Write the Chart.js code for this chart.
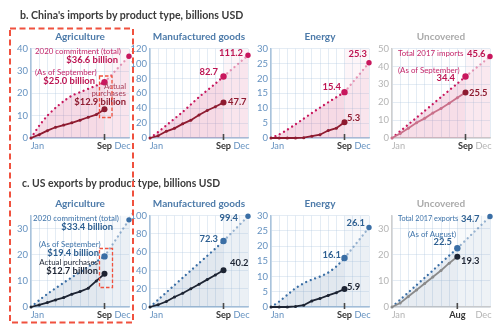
<!DOCTYPE html>
<html><head><meta charset="utf-8">
<script src="https://cdn.jsdelivr.net/npm/chart.js@4/dist/chart.umd.min.js"></script>
<style>
body{margin:0;width:500px;height:329px;position:relative;background:#fff;font-family:Lato,"Open Sans",sans-serif;overflow:hidden}
canvas.c{position:absolute}
.t{position:absolute;white-space:nowrap;line-height:1}
svg{position:absolute;left:0;top:0;pointer-events:none}
</style></head><body>
<script>
// ---------- DATA (billions USD; index = month-end, 0 = start of January) ----------
const monthGrid = [0,1,2,3,4,5,6,7,8,9,10,11,12];
const xTickLabels = [{at:0.78, text:'Jan'}, {at:9, text:'Sep'}, {at:11.2, text:'Dec'}];
const xTickLabelsAug = [{at:0.78, text:'Jan'}, {at:8, text:'Aug'}, {at:11.2, text:'Dec'}];
const panelTitles = ['Agriculture','Manufactured goods','Energy','Uncovered'];

// b. China's imports
const cnAgTarget = [0, 5.5, 10, 13.5, 16.5, 19, 20.5, 22, 23.5, 25.0];
const cnAgActual = [0, 1.5, 3.3, 4.8, 5.8, 6.8, 8.0, 9.3, 10.5, 12.9];
const cnAgTotal = 36.6;
const cnMfTarget = [0, 8, 17, 26, 35, 45, 55, 64, 73, 82.7];
const cnMfActual = [0, 3, 9, 13, 19, 24, 31, 37, 42, 47.7];
const cnMfTotal = 111.2;
const cnEnTarget = [0, 1.2, 2.8, 4.6, 6.5, 8.4, 10.2, 12, 13.7, 15.4];
const cnEnActual = [0, 0, 0, 0, 0.1, 0.6, 1.1, 2.5, 3.3, 5.3];
const cnEnTotal = 25.3;
const cnUnTarget = [0, 3.8, 7.6, 11.4, 15.2, 19, 22.9, 26.7, 30.5, 34.4];
const cnUnActual = [0, 2.5, 5.5, 8.5, 11, 14, 16.5, 19.5, 22.5, 25.5];
const cnUnTotal = 45.6;

// c. US exports
const usAgTarget = [0, 2.6, 5, 7.2, 9.3, 11.4, 13.4, 15.4, 17.4, 19.4];
const usAgActual = [0, 0.8, 1.7, 2.7, 3.6, 4.9, 5.9, 7.2, 10, 12.7];
const usAgTotal = 33.4;
const usMfTarget = [0, 8, 16, 24, 32, 40, 48, 56, 64, 72.3];
const usMfActual = [0, 2.5, 6, 11, 15, 20, 25, 30, 35, 40.2];
const usMfTotal = 99.4;
const usEnTarget = [0, 1.8, 4, 6.2, 7.8, 9, 10, 11.3, 13.3, 16.1];
const usEnActual = [0, 0, 0, 0.2, 0.6, 2, 2.8, 3.8, 4.7, 5.9];
const usEnTotal = 26.1;
const usUnTarget = [0, 2.8, 5.6, 8.4, 11.2, 14, 16.9, 19.7, 22.5];
const usUnActual = [0, 1.5, 4, 6.5, 9, 11.5, 14, 16.8, 19.3];
const usUnTotal = 34.7;
const monthsInYear = 12;

// ---------- THEMES ----------
const themes = {
  cn: {target:'#c8175d', fill:'rgba(200,23,93,0.16)', proj:'rgba(200,23,93,0.42)', projFill:'rgba(200,23,93,0.07)', band:'rgba(200,23,93,0.045)', actual:'#8e1b30', actualMark:'#8e1b30', end:'#8e1b30'},
  cnU: {target:'#c8175d', fill:'rgba(200,23,93,0.14)', proj:'rgba(200,23,93,0.42)', projFill:'rgba(200,23,93,0.06)', band:'rgba(200,23,93,0.04)', actual:'#c9708a', actualMark:'#c9708a', end:'#8e1b30'},
  us: {target:'#3a6ea5', fill:'rgba(58,100,150,0.15)', proj:'rgba(58,110,165,0.5)', projFill:'rgba(58,100,150,0.06)', band:'rgba(58,100,150,0.04)', actual:'#1d2433', actualMark:'#1d2433', end:'#1d2433'},
  usU: {target:'#3a6ea5', fill:'rgba(58,100,150,0.12)', proj:'rgba(58,110,165,0.5)', projFill:'rgba(58,100,150,0.05)', band:'rgba(58,100,150,0.035)', actual:'#8a8a8a', actualMark:'#8a8a8a', end:'#1d2433'}
};

const PW = 98, YW = 26, PADT = 8, PADR = 6, XH = 16;
const cols = [31, 150, 271, 392];
const rows = [{top:48, h:90}, {top:215, h:92}];

const panels = [
  {c:0,r:0,yMax:40, step:10, tg:cnAgTarget, ac:cnAgActual, tot:cnAgTotal, th:'cn', unc:false, lab:xTickLabels},
  {c:1,r:0,yMax:120,step:20, tg:cnMfTarget, ac:cnMfActual, tot:cnMfTotal, th:'cn', unc:false, lab:xTickLabels},
  {c:2,r:0,yMax:30, step:5,  tg:cnEnTarget, ac:cnEnActual, tot:cnEnTotal, th:'cn', unc:false, lab:xTickLabels},
  {c:3,r:0,yMax:50, step:10, tg:cnUnTarget, ac:cnUnActual, tot:cnUnTotal, th:'cnU', unc:true, lab:xTickLabels},
  {c:0,r:1,yMax:35, step:5,  tg:usAgTarget, ac:usAgActual, tot:usAgTotal, th:'us', unc:false, lab:xTickLabels},
  {c:1,r:1,yMax:100,step:20, tg:usMfTarget, ac:usMfActual, tot:usMfTotal, th:'us', unc:false, lab:xTickLabels},
  {c:2,r:1,yMax:30, step:5,  tg:usEnTarget, ac:usEnActual, tot:usEnTotal, th:'us', unc:false, lab:xTickLabels},
  {c:3,r:1,yMax:35, step:5,  tg:usUnTarget, ac:usUnActual, tot:usUnTotal, th:'usU', unc:true, lab:xTickLabelsAug}
];

const blueTick = '#6592c0', greyTick = '#b4b4b4';
const gridCol = 'rgba(170,195,220,0.32)';

const bandPlugin = {
  id:'band',
  beforeDraw(chart){
    const o = chart.options.plugins.band; if(!o) return;
    const {ctx, chartArea:a, scales:{x}} = chart;
    const x0 = x.getPixelForValue(o.from);
    ctx.save(); ctx.fillStyle = o.color; ctx.fillRect(x0, a.top, a.right - x0, a.bottom - a.top); ctx.restore();
  },
  afterDatasetsDraw(chart){
    const o = chart.options.plugins.band; if(!o) return;
    const {ctx, chartArea:a, scales:{x}} = chart;
    const xp = x.getPixelForValue(o.from);
    ctx.save(); ctx.strokeStyle = '#4a4a4a'; ctx.lineWidth = 1.6;
    ctx.beginPath(); ctx.moveTo(xp, a.bottom - 4); ctx.lineTo(xp, a.bottom + 2); ctx.stroke(); ctx.restore();
  }
};

function addText(text, x, cy, align, style){
  const d = document.createElement('div');
  d.className = 't'; d.textContent = text;
  d.style.left = x + 'px'; d.style.top = cy + 'px';
  d.style.transform = align==='r' ? 'translate(-100%,-50%)' : align==='c' ? 'translate(-50%,-50%)' : 'translateY(-50%)';
  Object.assign(d.style, style);
  document.body.appendChild(d);
  return d;
}

panels.forEach(p => {
  const th = themes[p.th];
  const cut = p.tg.length - 1;
  const left = cols[p.c], row = rows[p.r];
  const cv = document.createElement('canvas');
  cv.className = 'c';
  const W = YW + PW + PADR, H = PADT + row.h + XH;
  cv.width = W; cv.height = H;
  cv.style.left = (left - YW) + 'px'; cv.style.top = (row.top - PADT) + 'px';
  cv.style.width = W + 'px'; cv.style.height = H + 'px';
  document.body.appendChild(cv);

  const tgPts = p.tg.map((v,i)=>({x:i, y:v}));
  const acPts = p.ac.map((v,i)=>({x:i, y:v}));
  const prPts = [{x:cut, y:p.tg[cut]}, {x:monthsInYear, y:p.tot}];
  const tickCol = p.unc ? greyTick : blueTick;
  const axisCol = p.unc ? '#cfcfcf' : '#a9c3dc';
  const labelAt = v => { const f = p.lab.find(l => Math.abs(l.at - v) < 1e-6); return f ? f.text : ''; };
  const isCut = ctx => ctx.tick && Math.abs(ctx.tick.value - cut) < 1e-6;

  new Chart(cv, {
    type:'line',
    data:{datasets:[
      {data:acPts, borderColor:th.actual, borderWidth:1.8, tension:0, fill:false, clip:false,
       pointRadius:acPts.map((d,i)=> i===cut?3:1.5), pointBackgroundColor:acPts.map((d,i)=> i===cut?th.end:th.actualMark),
       pointBorderWidth:0},
      {data:tgPts, borderColor:th.target, borderWidth:2.3, borderDash:[0.01,4.8], borderCapStyle:'round', tension:0.2, clip:false,
       fill:'origin', backgroundColor:th.fill,
       pointRadius:tgPts.map((d,i)=> i===cut?3.2:0), pointBackgroundColor:th.target, pointBorderWidth:0},
      {data:prPts, borderColor:th.proj, borderWidth:2.3, borderDash:[0.01,4.8], borderCapStyle:'round', tension:0, clip:false,
       fill:'origin', backgroundColor:th.projFill,
       pointRadius:[0,2.7], pointBackgroundColor:th.target, pointBorderWidth:0}
    ]},
    options:{
      responsive:false, animation:false, devicePixelRatio:1,
      layout:{padding:{top:PADT, right:PADR, left:0, bottom:0}},
      plugins:{legend:{display:false}, tooltip:{enabled:false}, band:{from:cut, color:th.band}},
      scales:{
        x:{type:'linear', min:0, max:monthsInYear,
           afterBuildTicks:s=>{
             const vals = monthGrid.concat(p.lab.map(l=>l.at).filter(v=>!monthGrid.includes(v)));
             s.ticks = vals.sort((a,b)=>a-b).map(v=>({value:v}));
           },
           ticks:{autoSkip:false, maxRotation:0, padding:3,
             callback:v=> labelAt(v),
             color:ctx=> isCut(ctx) ? '#333' : tickCol,
             font:ctx=> isCut(ctx) ? {family:'Lato', size:9.2, weight:'bold'} : {family:'Lato', size:9.2}},
           grid:{color:ctx=> (ctx.tick && Number.isInteger(ctx.tick.value)) ? gridCol : 'rgba(0,0,0,0)', lineWidth:1, drawTicks:false},
           border:{display:true, color:axisCol, width:1.5},
           afterFit:s=>{s.height = XH;}},
        y:{min:0, max:p.yMax,
           ticks:{stepSize:p.step, padding:3, color:tickCol, font:{family:'Lato', size:9.5}},
           grid:{color:gridCol, lineWidth:1, drawTicks:false},
           border:{display:true, color:axisCol, width:1.5},
           afterFit:s=>{s.width = YW;}}
      }
    },
    plugins:[bandPlugin]
  });

  addText(panelTitles[p.c], left + PW/2, p.r===0?36:203, 'c',
    {fontSize:'10px', fontWeight:'700', color: p.unc ? '#ababab' : '#4c7aa9'});
});

const fmt = v => v.toFixed(1);

// headings
addText("b. China's imports by product type, billions USD", 20, 15, 'l', {fontSize:'10.6px', fontWeight:'700', color:'#3a3a3a'});
addText("c. US exports by product type, billions USD", 22, 183, 'l', {fontSize:'10.4px', fontWeight:'700', color:'#3a3a3a'});

const pinkR = {fontSize:'7.9px', color:'#c4266a'};
const pinkB = {fontSize:'9.4px', fontWeight:'700', color:'#bd1452'};
const redR = {fontSize:'7.9px', color:'#a8405b'};
const redB = {fontSize:'9.4px', fontWeight:'700', color:'#8e1b30'};
const blueR = {fontSize:'7.9px', color:'#3f74aa'};
const blueB = {fontSize:'9.4px', fontWeight:'700', color:'#2d5f91'};
const blkR = {fontSize:'7.9px', color:'#1d2433'};
const blkB = {fontSize:'9.4px', fontWeight:'700', color:'#1d2433'};

// China agriculture
addText('2020 commitment (total)', 35, 52, 'l', pinkR);
addText('$' + fmt(cnAgTotal) + ' billion', 118, 59.5, 'r', pinkB);
addText('(As of September)', 35, 73, 'l', pinkR);
addText('$' + fmt(cnAgTarget[cnAgTarget.length-1]) + ' billion', 95, 80.5, 'r', pinkB);
addText('Actual', 126, 87, 'r', redR);
addText('purchases', 126, 94, 'r', redR);
addText('$' + fmt(cnAgActual[cnAgActual.length-1]) + ' billion', 126, 101.5, 'r', redB);
// China manufactured
addText(fmt(cnMfTotal), 243, 53, 'r', pinkB);
addText(fmt(cnMfTarget[cnMfTarget.length-1]), 218, 72, 'r', pinkB);
addText(fmt(cnMfActual[cnMfActual.length-1]), 228, 102, 'l', redB);
// China energy
addText(fmt(cnEnTotal), 367, 54, 'r', pinkB);
addText(fmt(cnEnTarget[cnEnTarget.length-1]), 341, 87, 'r', pinkB);
addText(fmt(cnEnActual[cnEnActual.length-1]), 347, 118, 'l', redB);
// China uncovered
addText('Total 2017 imports', 398, 54, 'l', pinkR);
addText(fmt(cnUnTotal), 467, 54, 'l', pinkB);
addText('(As of September)', 398, 71, 'l', pinkR);
addText(fmt(cnUnTarget[cnUnTarget.length-1]), 455, 78, 'r', pinkB);
addText(fmt(cnUnActual[cnUnActual.length-1]), 469, 93, 'l', redB);

// US agriculture
addText('2020 commitment (total)', 33, 219, 'l', blueR);
addText('$' + fmt(usAgTotal) + ' billion', 113, 227, 'r', blueB);
addText('(As of September)', 39, 245, 'l', blueR);
addText('$' + fmt(usAgTarget[usAgTarget.length-1]) + ' billion', 99, 253, 'r', blueB);
addText('Actual purchases', 98, 263, 'r', blkR);
addText('$' + fmt(usAgActual[usAgActual.length-1]) + ' billion', 98, 271, 'r', blkB);
// US manufactured
addText(fmt(usMfTotal), 238, 218, 'r', blueB);
addText(fmt(usMfTarget[usMfTarget.length-1]), 218, 239, 'r', blueB);
addText(fmt(usMfActual[usMfActual.length-1]), 230, 263, 'l', blkB);
// US energy
addText(fmt(usEnTotal), 365, 223, 'r', blueB);
addText(fmt(usEnTarget[usEnTarget.length-1]), 341, 255, 'r', blueB);
addText(fmt(usEnActual[usEnActual.length-1]), 347, 287, 'l', blkB);
// US uncovered
addText('Total 2017 exports', 398, 219, 'l', Object.assign({}, blueR, {fontSize:'7.3px'}));
addText(fmt(usUnTotal), 461, 219, 'l', blueB);
addText('(As of August)', 408, 235, 'l', blueR);
addText(fmt(usUnTarget[usUnTarget.length-1]), 452, 242, 'r', blueB);
addText(fmt(usUnActual[usUnActual.length-1]), 461, 261, 'l', blkB);

// dashed highlight boxes
const svgNS = 'http://www.w3.org/2000/svg';
const svg = document.createElementNS(svgNS, 'svg');
svg.setAttribute('width', 500); svg.setAttribute('height', 329);
function rect(x,y,w,h,sw,dash){
  const r = document.createElementNS(svgNS,'rect');
  r.setAttribute('x',x); r.setAttribute('y',y); r.setAttribute('width',w); r.setAttribute('height',h);
  r.setAttribute('fill','none'); r.setAttribute('stroke','#f0513e'); r.setAttribute('stroke-width',sw);
  r.setAttribute('stroke-dasharray',dash); svg.appendChild(r);
}
rect(10, 28.5, 123, 294, 2, '6 3.5');
rect(99.5, 76, 12.5, 41.5, 1.3, '3.5 2');
rect(99.5, 248.5, 13, 39, 1.3, '3.5 2');
document.body.appendChild(svg);
</script>
</body></html>
